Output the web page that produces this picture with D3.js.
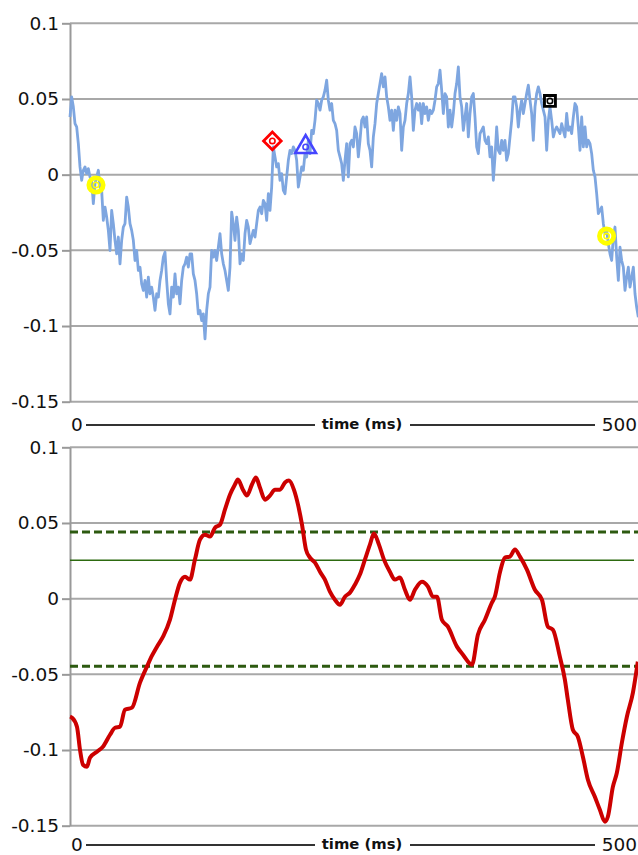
<!DOCTYPE html>
<html lang="en">
	<head>
		<meta charset="utf-8">
		<title>two traces</title>
		<script type="text/javascript" src="https://cdn.jsdelivr.net/npm/d3@7"></script>
		<style type="text/css">
			body { margin: 0; background: #fff; }
			text { font-family: "DejaVu Sans", sans-serif; }
		</style>
	</head>

	<body>
        <script type="text/javascript">

            // chart size
			var w = 638;
			var h = 855;

            // time axis
            var timeDomain = [0, 500];
            var timeTicks = ["0", "500"];
            var axisTitle = "time (ms)";

            // value axis ticks (both panels)
            var yTicks = [-0.15, -0.1, -0.05, 0, 0.05, 0.1];

            // top trace: one sample every sampleStep ms, starting at 0
            var sampleStep = 1.462;
            var topValues = [
                0.0381, 0.0514, 0.0448, 0.0337, 0.0315, 0.0205, 0.0051, -0.0037, 0.0029, 0.0051,
                0.0007, 0.0040, -0.0015, -0.0037, -0.0192, -0.0060, -0.0015, 0.0029, -0.0082, -0.0104,
                -0.0302, -0.0214, -0.0280, -0.0368, -0.0501, -0.0236, -0.0324, -0.0434, -0.0523, -0.0412,
                -0.0589, -0.0434, -0.0346, -0.0324, -0.0148, -0.0214, -0.0324, -0.0368, -0.0434, -0.0567,
                -0.0501, -0.0633, -0.0611, -0.0721, -0.0765, -0.0699, -0.0809, -0.0677, -0.0787, -0.0743,
                -0.0809, -0.0897, -0.0787, -0.0809, -0.0699, -0.0633, -0.0545, -0.0512, -0.0699, -0.0853,
                -0.0920, -0.0743, -0.0809, -0.0655, -0.0787, -0.0743, -0.0853, -0.0699, -0.0611, -0.0589,
                -0.0545, -0.0611, -0.0523, -0.0523, -0.0655, -0.0699, -0.0787, -0.0920, -0.0897, -0.0964,
                -0.0920, -0.1085, -0.0897, -0.0787, -0.0743, -0.0501, -0.0545, -0.0501, -0.0567, -0.0479,
                -0.0390, -0.0523, -0.0589, -0.0633, -0.0699, -0.0765, -0.0611, -0.0247, -0.0324, -0.0434,
                -0.0280, -0.0368, -0.0589, -0.0523, -0.0567, -0.0390, -0.0302, -0.0346, -0.0456, -0.0412,
                -0.0368, -0.0412, -0.0324, -0.0236, -0.0214, -0.0258, -0.0170, -0.0192, -0.0302, -0.0126,
                -0.0236, -0.0082, 0.0183, 0.0117, 0.0051, 0.0073, -0.0037, 0.0007, -0.0104, -0.0126,
                -0.0015, 0.0095, 0.0161, 0.0139, 0.0183, 0.0161, 0.0095, -0.0082, -0.0015, 0.0051,
                0.0029, 0.0139, 0.0117, 0.0227, 0.0139, 0.0293, 0.0271, 0.0359, 0.0492, 0.0470,
                0.0426, 0.0492, 0.0514, 0.0558, 0.0624, 0.0492, 0.0426, 0.0470, 0.0359, 0.0337,
                0.0293, 0.0161,
                0.0117, 0.0073, -0.0037, 0.0095, 0.0205, -0.0015, 0.0205, 0.0227, 0.0183, 0.0315,
                0.0271, 0.0117, 0.0227, 0.0359, 0.0381, 0.0315, 0.0381, 0.0205, 0.0161, 0.0051,
                0.0249, 0.0337, 0.0470, 0.0536, 0.0602, 0.0668, 0.0580, 0.0646, 0.0514, 0.0448,
                0.0359, 0.0426, 0.0293, 0.0426, 0.0359, 0.0448, 0.0404, 0.0161, 0.0315, 0.0359,
                0.0470, 0.0536, 0.0646, 0.0514, 0.0293, 0.0426, 0.0470, 0.0426, 0.0470, 0.0337,
                0.0470, 0.0404, 0.0448, 0.0359, 0.0426, 0.0404, 0.0426, 0.0492, 0.0580, 0.0602,
                0.0690, 0.0558, 0.0404, 0.0536, 0.0514, 0.0315, 0.0426, 0.0315, 0.0404, 0.0536,
                0.0602, 0.0712, 0.0514, 0.0448, 0.0293, 0.0381, 0.0470, 0.0249, 0.0404, 0.0514,
                0.0536, 0.0381, 0.0183, 0.0139, 0.0271, 0.0293, 0.0315, 0.0227, 0.0205, 0.0249,
                0.0117, 0.0183, -0.0037, 0.0117, 0.0315, 0.0161, 0.0139, 0.0227, 0.0161, 0.0227,
                0.0095, 0.0139, 0.0249, 0.0359, 0.0514, 0.0514, 0.0448, 0.0315, 0.0426, 0.0492,
                0.0404, 0.0470, 0.0536, 0.0591, 0.0492, 0.0404, 0.0227, 0.0448, 0.0536, 0.0580,
                0.0536, 0.0470, 0.0426, 0.0381, 0.0161, 0.0359, 0.0448, 0.0359, 0.0249, 0.0293,
                0.0315, 0.0293, 0.0271, 0.0337, 0.0293, 0.0249, 0.0404, 0.0293, 0.0315, 0.0271,
                0.0381, 0.0470, 0.0448, 0.0315, 0.0161, 0.0381, 0.0183, 0.0315, 0.0183, 0.0227,
                0.0205, 0.0139, 0.0029, -0.0015, -0.0126, -0.0258, -0.0236, -0.0214, -0.0324, -0.0390,
                -0.0368, -0.0456, -0.0523, -0.0567, -0.0412, -0.0346, -0.0545, -0.0699, -0.0479, -0.0567,
                -0.0611, -0.0765, -0.0677, -0.0611, -0.0743, -0.0677, -0.0611, -0.0787, -0.0876, -0.0942
            ];

            // markers on the top trace
            var markerTypes  = ["circle", "diamond", "triangle", "square", "circle"];
            var markerTimes  = [22.8, 177.5, 206.7, 421.0, 470.7];
            var markerValues = [-0.0068, 0.0223, 0.0183, 0.0487, -0.0406];
            var markerColors = ["#ffff00", "#ff0000", "#4545ff", "#000000", "#ffff00"];

            // bottom trace (smoothed)
            var botTimes = [
                0, 1.8, 6.1, 8.8, 11.4, 14.9, 17.5, 23.7, 28.9, 35.1,
                39.5, 43.9, 48.2, 54.4, 61.4, 67.5, 71.9, 76.3, 81.6, 87.7,
                92.1, 96.5, 100.9, 105.2, 109.6, 114.0, 118.4, 122.8, 127.2, 131.6,
                135.9, 140.3, 144.7, 147.3, 151.7, 155.2, 159.6, 163.1, 166.6, 171.0,
                175.4, 179.8, 184.2, 188.6, 192.1, 196.4, 200.0, 203.5, 207.0, 210.5,
                214.9, 219.3, 223.6, 228.0, 232.4, 236.8, 241.2, 245.6, 250.0, 254.3,
                258.7, 263.1, 266.6, 271.0, 275.4, 280.6, 285.0, 289.4, 293.8, 298.2,
                302.6, 308.7, 314.0, 318.4, 321.9, 326.2, 331.5, 339.4, 344.7, 352.6,
                357.8, 364.0, 370.1, 372.7, 377.1, 381.5, 385.9, 390.3, 394.7, 400.8,
                407.8, 414.0, 419.2, 423.6, 429.7, 434.1, 436.7, 441.1, 445.5, 449.9,
                454.3, 460.4, 464.8, 469.2, 471.8, 476.2, 479.7, 484.1, 488.5, 493.8,
                498.1
            ];
            var botValues = [
                -0.0780, -0.0787, -0.0846, -0.1000, -0.1097, -0.1110, -0.1051, -0.1011, -0.0978, -0.0899,
                -0.0853, -0.0846, -0.0734, -0.0720, -0.0555, -0.0449, -0.0377, -0.0317, -0.0251, -0.0139,
                -0.0007, 0.0106, 0.0145, 0.0126, 0.0258, 0.0390, 0.0423, 0.0410, 0.0469, 0.0489,
                0.0588, 0.0687, 0.0754, 0.0787, 0.0720, 0.0681, 0.0754, 0.0800, 0.0734, 0.0654,
                0.0681, 0.0720, 0.0720, 0.0767, 0.0780, 0.0720, 0.0621, 0.0489, 0.0324, 0.0271,
                0.0238, 0.0178, 0.0126, 0.0046, -0.0007, -0.0040, 0.0013, 0.0040, 0.0093, 0.0159,
                0.0258, 0.0357, 0.0430, 0.0357, 0.0258, 0.0178, 0.0126, 0.0139, 0.0059, -0.0007,
                0.0059, 0.0112, 0.0079, 0.0013, 0.0013, -0.0139, -0.0185, -0.0317, -0.0370, -0.0436,
                -0.0238, -0.0139, -0.0026, 0.0013, 0.0172, 0.0271, 0.0278, 0.0324, 0.0278, 0.0192,
                0.0059, -0.0007, -0.0185, -0.0205, -0.0383, -0.0535, -0.0668, -0.0866, -0.0912, -0.1044,
                -0.1196, -0.1309, -0.1395, -0.1474, -0.1441, -0.1243, -0.1150, -0.0952, -0.0780, -0.0621,
                -0.0416
            ];

            // reference levels on the bottom panel
            var dashedLevels = [0.0441, -0.0447];
            var solidLevel = 0.0253;

			var svg = d3.select("body")
						.append("svg")
						.attr("width", w)
						.attr("height", h);

            var xScale = d3.scaleLinear()
                .domain(timeDomain)
                .range([70, 640]);

            var yTop = d3.scaleLinear().domain([-0.15, 0.1]).range([401.7, 23.3]);
            var yBot = d3.scaleLinear().domain([-0.15, 0.1]).range([825.7, 447.3]);

            function fmt(d) { return String(+d.toFixed(2)); }

            // grid, y axis and time axis row for one panel
            function drawFrame(y, labelY) {
                var g = svg.append("g");

                g.selectAll("line.grid")
                    .data(yTicks)
                    .enter()
                    .append("line")
                    .attr("class", "grid")
                    .attr("x1", xScale(0))
                    .attr("x2", w)
                    .attr("y1", function(d) { return y(d); })
                    .attr("y2", function(d) { return y(d); })
                    .attr("stroke", "#a8a8a8")
                    .attr("stroke-width", 2);

                var yAxis = d3.axisLeft(y)
                    .tickValues(yTicks)
                    .tickSize(8)
                    .tickSizeOuter(0)
                    .tickPadding(3)
                    .tickFormat(fmt);

                var ax = g.append("g")
                    .attr("transform", "translate(" + xScale(0) + ",0)")
                    .call(yAxis);
                ax.select(".domain").attr("stroke", "#999").attr("stroke-width", 2);
                ax.selectAll(".tick line").attr("stroke", "#999").attr("stroke-width", 2);
                ax.selectAll(".tick text")
                    .attr("fill", "#111")
                    .style("font-size", "18.5px")
                    .style("font-family", "'DejaVu Sans', sans-serif");

                // time axis row: 0 ——— time (ms) ——— 500
                var row = g.append("g");
                row.append("text")
                    .attr("x", xScale(0) + 1)
                    .attr("y", labelY)
                    .attr("dy", "0.36em")
                    .attr("text-anchor", "start")
                    .style("font-size", "18.5px")
                    .attr("fill", "#111")
                    .text(timeTicks[0]);
                row.append("text")
                    .attr("x", 637)
                    .attr("y", labelY)
                    .attr("dy", "0.36em")
                    .attr("text-anchor", "end")
                    .style("font-size", "18.5px")
                    .attr("fill", "#111")
                    .text(timeTicks[1]);
                row.append("text")
                    .attr("x", 362)
                    .attr("y", labelY)
                    .attr("dy", "0.36em")
                    .attr("text-anchor", "middle")
                    .style("font-size", "14.8px")
                    .style("font-weight", "bold")
                    .attr("fill", "#111")
                    .text(axisTitle);
                row.selectAll("line")
                    .data([[86, 315], [410, 595]])
                    .enter()
                    .append("line")
                    .attr("x1", function(d) { return d[0]; })
                    .attr("x2", function(d) { return d[1]; })
                    .attr("y1", labelY + 1)
                    .attr("y2", labelY + 1)
                    .attr("stroke", "#333")
                    .attr("stroke-width", 2);
            }

            drawFrame(yTop, 424);
            drawFrame(yBot, 844);

            // top trace
            var topLine = d3.line()
                .x(function(d, i) { return xScale(i * sampleStep); })
                .y(function(d) { return yTop(d); });

            svg.append("path")
                .datum(topValues)
                .attr("d", topLine)
                .attr("fill", "none")
                .attr("stroke", "#7ea6e0")
                .attr("stroke-width", 2.8)
                .attr("stroke-linejoin", "round");

            // markers
            var symbolFor = {
                circle: d3.symbolCircle,
                diamond: d3.symbolSquare,
                triangle: d3.symbolTriangle,
                square: d3.symbolSquare
            };
            var sizeFor = { circle: 160, diamond: 155, triangle: 185, square: 120 };
            var strokeFor = { circle: 4.8, diamond: 2.8, triangle: 2.6, square: 2.9 };

            var markers = svg.selectAll("g.marker")
                .data(markerTypes)
                .enter()
                .append("g")
                .attr("class", "marker")
                .attr("transform", function(d, i) {
                    return "translate(" + xScale(markerTimes[i]) + "," + yTop(markerValues[i]) + ")";
                });

            markers.append("path")
                .attr("d", function(d) { return d3.symbol().type(symbolFor[d]).size(sizeFor[d])(); })
                .attr("transform", function(d) { return d === "diamond" ? "rotate(45)" : null; })
                .attr("fill", "none")
                .attr("stroke", function(d, i) { return markerColors[i]; })
                .attr("stroke-width", function(d) { return strokeFor[d]; });

            markers.append("circle")
                .attr("r", 2.7)
                .attr("fill", "none")
                .attr("stroke", function(d, i) { return markerColors[i]; })
                .attr("stroke-width", 1.6);

            // bottom panel reference levels
            svg.selectAll("line.dashed")
                .data(dashedLevels)
                .enter()
                .append("line")
                .attr("class", "dashed")
                .attr("x1", xScale(0))
                .attr("x2", w)
                .attr("y1", function(d) { return yBot(d); })
                .attr("y2", function(d) { return yBot(d); })
                .attr("stroke", "#2d5a10")
                .attr("stroke-width", 3)
                .attr("stroke-dasharray", "8,4");

            svg.append("line")
                .attr("x1", xScale(0))
                .attr("x2", 634)
                .attr("y1", yBot(solidLevel))
                .attr("y2", yBot(solidLevel))
                .attr("stroke", "#2d6a10")
                .attr("stroke-width", 1.5);

            // bottom trace
            var botLine = d3.line()
                .x(function(d, i) { return xScale(botTimes[i]); })
                .y(function(d) { return yBot(d); })
                .curve(d3.curveMonotoneX);

            svg.append("path")
                .datum(botValues)
                .attr("d", botLine)
                .attr("fill", "none")
                .attr("stroke", "#cc0000")
                .attr("stroke-width", 4)
                .attr("stroke-linejoin", "round");

        </script>
	</body>
</html>
